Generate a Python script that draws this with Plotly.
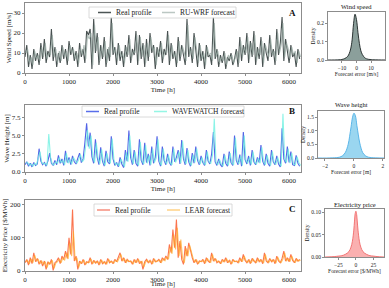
import plotly.graph_objects as go

W, H = 389, 288
FONT = "Liberation Serif"

# ---------------- data ----------------
HOURS = list(range(0, 6280, 40))          # time stamps of real profile samples [h]
HOURS_FC = [h + 20 for h in HOURS]        # forecast samples (half-step offset)

wind_real = [8, 14, 3, 9, 2, 12, 6, 10, 4, 15,
             7, 17, 5, 11, 8, 22, 6, 13, 3, 10,
             5, 14, 7, 12, 4, 16, 9, 13, 6, 11,
             3, 15, 8, 12, 5, 21, 19, 22, 2, 27,
             10, 20, 4, 14, 7, 18, 3, 12, 6, 28,
             9, 13, 4, 15, 6, 11, 3, 14, 8, 19,
             5, 12, 9, 21, 4, 19, 7, 15, 3, 17,
             6, 20, 10, 14, 2, 13, 8, 16, 5, 12,
             9, 21, 4, 15, 7, 11, 3, 18, 6, 14,
             9, 4, 27, 8, 13, 5, 20, 10, 3, 15,
             6, 11, 2, 14, 8, 9, 4, 28, 7, 12,
             3, 9, 5, 11, 2, 8, 6, 10, 4, 7,
             12, 3, 18, 6, 14, 9, 20, 5, 16, 8,
             21, 4, 13, 7, 18, 3, 15, 10, 6, 19,
             8, 12, 4, 22, 9, 15, 28, 6, 17, 11,
             5, 14, 8, 10, 3, 12, 7]
wind_fc = [10, 12, 5, 8, 4, 11, 7, 9, 6, 13,
           8, 15, 7, 10, 9, 19, 8, 12, 5, 11,
           6, 13, 8, 11, 6, 14, 10, 12, 7, 10,
           5, 13, 9, 14, 7, 19, 17, 20, 4, 24,
           11, 18, 6, 13, 8, 16, 5, 13, 8, 25,
           10, 12, 6, 14, 8, 10, 5, 13, 9, 17,
           7, 11, 10, 19, 6, 18, 8, 14, 5, 15,
           8, 18, 11, 13, 4, 12, 9, 15, 7, 11,
           10, 19, 6, 14, 8, 10, 5, 16, 8, 13,
           10, 6, 24, 9, 12, 7, 18, 11, 5, 14,
           7, 10, 4, 13, 9, 10, 6, 25, 8, 11,
           5, 8, 6, 10, 4, 9, 7, 9, 5, 8,
           11, 5, 16, 8, 13, 10, 18, 7, 15, 9,
           19, 6, 12, 9, 16, 5, 14, 11, 8, 17,
           9, 11, 6, 20, 10, 14, 25, 8, 15, 12,
           7, 13, 9, 11, 5, 11, 8]

wave_real = [1.0, 1.4, 0.8, 1.2, 0.7, 1.3, 0.9, 1.1, 3.2, 1.5,
             1.0, 1.3, 0.8, 1.5, 2.6, 1.2, 0.9, 1.6, 1.0, 2.3,
             1.2, 1.8, 0.9, 2.9, 1.3, 2.0, 1.0, 2.2, 1.4, 1.1,
             1.9, 2.6, 1.3, 1.8, 4.0, 6.7, 3.5, 5.4, 2.1, 1.2,
             4.5, 2.0, 1.0, 3.4, 1.5, 0.8, 2.9, 1.4, 1.1, 4.9,
             1.8, 0.9, 1.3, 0.7, 2.0, 1.1, 0.6, 3.0, 1.5, 5.7,
             2.0, 1.0, 3.0, 1.2, 0.8, 4.5, 1.6, 1.0, 4.0, 1.3,
             2.5, 0.9, 3.5, 1.2, 2.0, 4.9, 1.5, 0.8, 3.5, 1.6,
             1.0, 2.5, 1.3, 0.9, 3.5, 1.4, 2.0, 3.0, 1.1, 4.4,
             1.8, 1.0, 3.3, 1.4, 0.8, 2.6, 1.2, 3.5, 1.6, 1.0,
             2.2, 1.3, 0.9, 3.0, 1.5, 1.1, 2.5, 5.5, 1.4, 0.9,
             1.8, 1.0, 0.7, 2.5, 1.2, 0.8, 2.8, 1.3, 0.9, 5.0,
             1.6, 1.0, 2.4, 0.8, 5.5, 1.7, 1.1, 2.2, 0.9, 3.0,
             1.4, 1.0, 2.0, 1.3, 3.7, 1.5, 0.9, 2.5, 1.2, 0.8,
             3.0, 1.4, 1.0, 2.2, 1.1, 0.7, 6.0, 1.8, 1.2, 3.5,
             1.3, 2.8, 1.0, 0.9, 2.3, 1.2, 0.8]
wave_fc = [1.2, 1.3, 0.9, 1.1, 0.8, 1.2, 1.0, 2.0, 2.8, 1.3,
           1.1, 1.2, 0.9, 5.2, 2.0, 1.1, 1.0, 1.4, 1.2, 2.0,
           1.3, 1.6, 1.0, 2.6, 1.2, 1.8, 1.1, 2.0, 1.5, 1.2,
           1.7, 2.4, 1.4, 1.7, 3.6, 5.8, 3.2, 5.0, 2.0, 1.3,
           4.0, 1.9, 1.1, 3.1, 1.4, 0.9, 2.6, 1.5, 1.2, 4.6,
           1.7, 1.0, 1.2, 0.8, 1.8, 1.2, 0.7, 2.7, 1.4, 5.0,
           1.9, 1.1, 2.8, 1.3, 0.9, 4.1, 1.5, 1.1, 3.7, 1.2,
           2.3, 1.0, 3.2, 1.3, 1.9, 4.5, 1.4, 0.9, 3.2, 1.5,
           1.1, 2.3, 1.2, 1.0, 3.2, 1.3, 1.9, 2.8, 1.2, 4.2,
           1.7, 1.1, 3.0, 1.3, 0.9, 2.4, 1.3, 3.2, 1.5, 1.1,
           2.0, 1.2, 1.0, 2.8, 1.4, 1.2, 2.3, 7.3, 1.3, 1.0,
           1.7, 1.1, 0.8, 2.3, 1.3, 0.9, 2.6, 1.2, 1.0, 4.7,
           1.5, 1.1, 2.2, 0.9, 5.0, 1.6, 1.2, 2.0, 1.0, 2.8,
           1.3, 1.1, 1.9, 1.2, 3.4, 1.4, 1.0, 2.3, 1.3, 0.9,
           2.8, 1.3, 1.1, 2.0, 1.2, 0.8, 8.0, 1.7, 1.3, 3.2,
           1.2, 2.6, 1.1, 1.0, 2.1, 1.3, 0.9]

price_real = [25, 35, 18, 40, 22, 55, 28, 38, 20, 32,
              15, 30, 5, 28, 20, 35, 2, 25, 30, 40,
              22, 45, 35, 60, 38, 100, 50, 185, 30, 45,
              5, 30, 22, 35, 18, 28, 25, 40, 20, 32,
              24, 30, 18, 35, 22, 28, 20, 38, 25, 30,
              22, 35, 28, 45, 55, 30, 40, 25, 35, 28,
              30, 20, 35, 25, 38, 22, 30, 5, 28, 35,
              25, 32, 20, 38, 28, 30, 35, 25, 40, 32,
              45, 35, 80, 55, 125, 70, 155, 40, 90, 35,
              20, 75, 45, 85, 60, 40, 25, 35, 20, 30,
              28, 35, 22, 40, 30, 25, 55, 30, 38, 25,
              30, 22, 35, 28, 40, 25, 32, 20, 35, 28,
              30, 25, 40, 28, 50, 32, 25, 35, 22, 38,
              30, 25, 40, 28, 35, 22, 55, 30, 25, 38,
              28, 35, 22, 45, 30, 25, 38, 60, 30, 40,
              28, 50, 32, 25, 38, 30, 35]
price_fc = [28, 32, 22, 36, 25, 48, 30, 35, 22, 30,
            20, 28, 10, 26, 22, 32, 8, 24, 28, 36,
            25, 40, 32, 55, 36, 85, 45, 120, 32, 40,
            10, 28, 24, 33, 20, 27, 26, 36, 22, 30,
            25, 28, 20, 33, 23, 27, 22, 35, 26, 28,
            24, 33, 28, 42, 50, 30, 37, 26, 33, 28,
            29, 22, 33, 26, 35, 24, 29, 12, 27, 33,
            26, 30, 22, 36, 28, 30, 33, 26, 37, 31,
            42, 36, 72, 52, 110, 65, 130, 45, 95, 38,
            25, 68, 45, 78, 55, 38, 27, 33, 22, 30,
            28, 33, 24, 38, 30, 26, 50, 30, 35, 26,
            29, 24, 33, 28, 37, 26, 31, 22, 33, 28,
            30, 26, 37, 28, 45, 31, 26, 33, 24, 36,
            30, 26, 37, 28, 33, 24, 50, 30, 26, 35,
            28, 33, 24, 42, 30, 26, 36, 55, 30, 37,
            28, 45, 31, 26, 35, 30, 33]

# forecast-error densities
wind_err = [-20, -12, -10, -8, -6, -5, -4, -3, -2, -1, 0, 1, 2, 3, 4, 5, 6, 8, 10, 12, 20]
wind_den = [0, 0.001, 0.003, 0.008, 0.02, 0.035, 0.06, 0.11, 0.2, 0.25, 0.22, 0.15,
            0.09, 0.05, 0.03, 0.018, 0.01, 0.004, 0.002, 0.001, 0]
wave_err = [-2.5, -1.5, -1.0, -0.8, -0.6, -0.4, -0.3, -0.2, -0.1, 0.0, 0.1, 0.2,
            0.3, 0.4, 0.6, 0.8, 1.0, 1.5, 2.07]
wave_den = [0, 0.005, 0.03, 0.08, 0.2, 0.5, 0.8, 1.15, 1.5, 1.65, 1.55, 1.2,
            0.85, 0.55, 0.2, 0.08, 0.03, 0.005, 0]
price_err = [-44, -30, -25, -20, -15, -10, -7, -5, -3, -2, -1, 0, 1, 2, 3, 5, 7,
             10, 15, 20, 25, 30, 40]
price_den = [0, 0.001, 0.002, 0.003, 0.006, 0.012, 0.022, 0.035, 0.06, 0.08, 0.097,
             0.102, 0.095, 0.078, 0.06, 0.035, 0.022, 0.012, 0.006, 0.003, 0.002,
             0.001, 0]

# ---------------- figure ----------------
fig = go.Figure()

def px_x(p):
    return p / W

def px_y(p):
    return 1 - p / H

FRAME = "#8c8c8c"

panels = [
    dict(real=wind_real, fc=wind_fc, c_real="rgba(40,50,50,0.85)", c_fc="rgba(150,168,162,0.75)",
         err=wind_err, den=wind_den, fill="rgba(110,135,130,0.8)", dline="#1a2222"),
    dict(real=wave_real, fc=wave_fc, c_real="rgba(40,60,225,0.8)", c_fc="rgba(110,240,225,0.8)",
         err=wave_err, den=wave_den, fill="rgba(120,200,235,0.75)", dline="#4fb0e6"),
    dict(real=price_real, fc=price_fc, c_real="rgba(250,70,20,0.75)", c_fc="rgba(255,170,40,0.7)",
         err=price_err, den=price_den, fill="rgba(248,150,150,0.75)", dline="#f06a6a"),
]

for i, p in enumerate(panels):
    xm = "x" if i == 0 else f"x{2*i+1}"
    ym = "y" if i == 0 else f"y{2*i+1}"
    xd = f"x{2*i+2}"
    yd = f"y{2*i+2}"
    fig.add_trace(go.Scatter(x=HOURS, y=p["real"], mode="lines", xaxis=xm, yaxis=ym,
                             line=dict(color=p["c_real"], width=1.1), showlegend=False))
    fig.add_trace(go.Scatter(x=HOURS_FC, y=p["fc"], mode="lines", xaxis=xm, yaxis=ym,
                             line=dict(color=p["c_fc"], width=1.1), showlegend=False))
    fig.add_trace(go.Scatter(x=p["err"], y=p["den"], mode="lines", xaxis=xd, yaxis=yd,
                             fill="tozeroy", fillcolor=p["fill"],
                             line=dict(color=p["dline"], width=0.9, shape="spline"),
                             showlegend=False))

def axis(domain, rng, tickvals, ticktext=None, size=7, anchor=None, title=None, tsize=7, standoff=None):
    d = dict(domain=domain, range=rng, tickvals=tickvals, showgrid=False, zeroline=False,
             showline=True, linecolor=FRAME, linewidth=1, mirror=True, automargin=False,
             ticks="outside", ticklen=2, tickcolor=FRAME,
             tickfont=dict(family=FONT, size=size, color="#222"), anchor=anchor)
    if ticktext is not None:
        d["ticktext"] = ticktext
    if title is not None:
        d["title"] = dict(text=title, font=dict(family=FONT, size=tsize, color="#222"))
        if standoff is not None:
            d["title"]["standoff"] = standoff
    return d

main_x_dom = [px_x(25), px_x(301)]
main_y_doms = [[px_y(73), px_y(3)], [px_y(172), px_y(105)], [px_y(271), px_y(200)]]
den_x_doms = [[px_x(328), px_x(385)], [px_x(318), px_x(384)], [px_x(325), px_x(384)]]
den_y_doms = [[px_y(60), px_y(12)], [px_y(158), px_y(111)], [px_y(257), px_y(209)]]

xt = [0, 1000, 2000, 3000, 4000, 5000, 6000]
main_y = [
    dict(rng=[0, 35], tv=[0, 10, 20, 30], tt=None, title="Wind Speed [m/s]"),
    dict(rng=[0, 9.2], tv=[0, 2.5, 5, 7.5], tt=["0.0", "2.5", "5.0", "7.5"], title="Wave Height [m]"),
    dict(rng=[0, 214], tv=[0, 100, 200], tt=None, title="Electricity Price [$/MWh]"),
]
den_ax = [
    dict(xr=[-19.5, 19.5], xtv=[-10, 0, 10], xtt=None, yr=[0, 0.262], ytv=[0, 0.1, 0.2],
         ytt=["0.0", "0.1", "0.2"], xtitle="Forecast error [m/s]"),
    dict(xr=[-2.48, 2.07], xtv=[-2, 0, 2], xtt=None, yr=[0, 1.73], ytv=[0, 0.5, 1.0, 1.5],
         ytt=["0.0", "0.5", "1.0", "1.5"], xtitle="Forecast error [m]"),
    dict(xr=[-44, 40], xtv=[-25, 0, 25], xtt=None, yr=[0, 0.107], ytv=[0, 0.05, 0.10],
         ytt=["0.00", "0.05", "0.10"], xtitle="Forecast error [$/MWh]"),
]

layout_axes = {}
for i in range(3):
    sm = "" if i == 0 else str(2 * i + 1)
    sd = str(2 * i + 2)
    layout_axes["xaxis" + sm] = axis(main_x_dom, [0, 6270], xt, anchor="y" + sm,
                                     title="Time [h]", standoff=0)
    my = main_y[i]
    layout_axes["yaxis" + sm] = axis(main_y_doms[i], my["rng"], my["tv"], my["tt"],
                                     anchor="x" + sm, title=my["title"], standoff=1)
    da = den_ax[i]
    layout_axes["xaxis" + sd] = axis(den_x_doms[i], da["xr"], da["xtv"], da["xtt"], size=5.5,
                                     anchor="y" + sd, title=da["xtitle"], tsize=5.5, standoff=0)
    layout_axes["yaxis" + sd] = axis(den_y_doms[i], da["yr"], da["ytv"], da["ytt"], size=5.5,
                                     anchor="x" + sd, title="Density", tsize=5.5, standoff=1)

fig.update_layout(template="none", width=W, height=H, autosize=False,
                  margin=dict(l=0, r=0, t=0, b=0, autoexpand=False),
                  paper_bgcolor="white", plot_bgcolor="white", showlegend=False, **layout_axes)

shapes = []
annotations = []

legend_specs = [
    dict(box=(89, 236, 7, 18), items=[(98, "Real profile", "rgba(45,55,55,0.85)"),
                                      (162, "RU-WRF forecast", "rgba(170,185,180,0.8)")]),
    dict(box=(82, 244, 106, 117), items=[(86, "Real profile", "rgba(60,85,230,0.85)"),
                                         (154, "WAVEWATCH forecast", "rgba(130,245,225,0.85)")]),
    dict(box=(94, 232, 204, 216), items=[(97, "Real profile", "rgba(245,130,110,0.9)"),
                                         (167, "LEAR forecast", "rgba(255,205,120,0.9)")]),
]
for spec in legend_specs:
    x0, x1, y0, y1 = spec["box"]
    shapes.append(dict(type="rect", xref="paper", yref="paper", x0=px_x(x0), x1=px_x(x1),
                       y0=px_y(y1), y1=px_y(y0), line=dict(color="#d0d0d0", width=0.8),
                       fillcolor="rgba(255,255,255,0.85)", layer="above"))
    yc = (y0 + y1) / 2
    for lx, txt, col in spec["items"]:
        shapes.append(dict(type="line", xref="paper", yref="paper", x0=px_x(lx), x1=px_x(lx + 13),
                           y0=px_y(yc), y1=px_y(yc), line=dict(color=col, width=1.5), layer="above"))
        annotations.append(dict(text=txt, xref="paper", yref="paper", x=px_x(lx + 16), y=px_y(yc),
                                xanchor="left", yanchor="middle", showarrow=False,
                                font=dict(family=FONT, size=7.5, color="#222")))

for letter, yy in [("A", 13), ("B", 111), ("C", 209)]:
    annotations.append(dict(text="<b>" + letter + "</b>", xref="paper", yref="paper", x=px_x(292),
                            y=px_y(yy), xanchor="center", yanchor="middle", showarrow=False,
                            font=dict(family=FONT, size=9, color="#111")))

for title, xx, yy in [("Wind speed", 356, 6), ("Wave height", 351, 105), ("Electricity price", 355, 204)]:
    annotations.append(dict(text=title, xref="paper", yref="paper", x=px_x(xx), y=px_y(yy),
                            xanchor="center", yanchor="middle", showarrow=False,
                            font=dict(family=FONT, size=6.5, color="#111")))

fig.update_layout(shapes=shapes, annotations=annotations)
fig.write_html("out.html", config={"displayModeBar": False},
               post_script="document.body.style.margin='0px';")
